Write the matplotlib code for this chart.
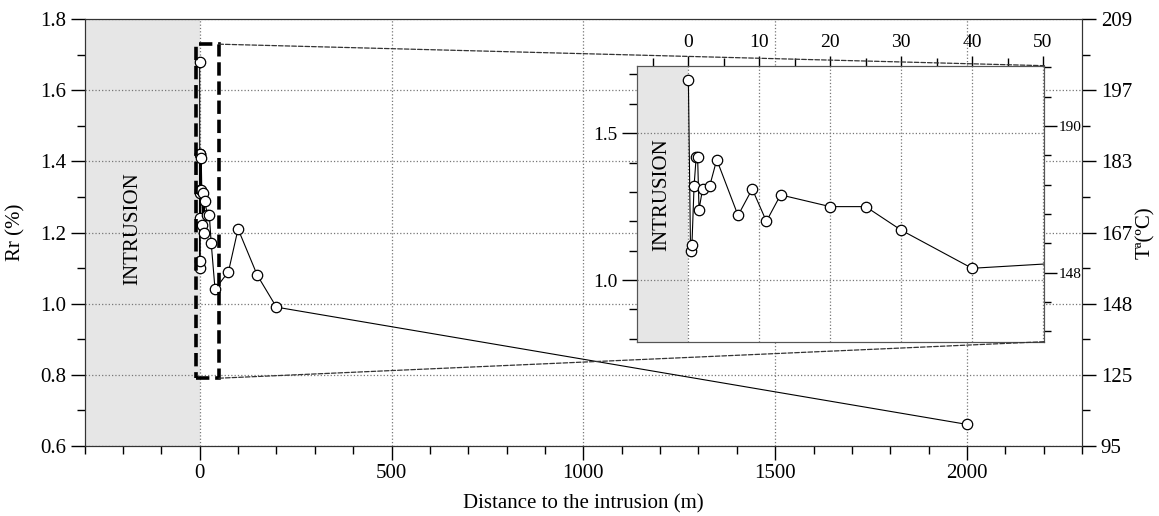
import numpy as np
import matplotlib
matplotlib.use("Agg")
import matplotlib.pyplot as plt
from matplotlib.patches import Rectangle, ConnectionPatch
from matplotlib.ticker import MultipleLocator, FixedLocator, FormatStrFormatter

plt.rcParams['font.family'] = ['Liberation Serif', 'DejaVu Serif']

# vitrinite reflectance vs. distance to the sill
dist = [0, 0.3, 0.5, 0.8, 1.1, 1.3, 1.5, 2, 3, 4, 7, 9, 11, 13, 20, 25, 30, 40,
        75, 100, 150, 200, 2000]
rr = [1.68, 1.10, 1.12, 1.32, 1.42, 1.42, 1.24, 1.31, 1.32, 1.41, 1.22, 1.31,
      1.20, 1.29, 1.25, 1.25, 1.17, 1.04, 1.09, 1.21, 1.08, 0.99, 0.66]

# equivalent temperature scale
temp_pos = [0.6, 0.8, 1.0, 1.2, 1.4, 1.6, 1.8]
temp_labels = ['95', '125', '148', '167', '183', '197', '209']
inset_temp_pos = [1.025, 1.525]
inset_temp_labels = ['148', '190']

line_kw = dict(color='black', lw=0.8, marker='o', ms=7.5, mfc='white',
               mec='black', mew=0.9, zorder=3)
grid_kw = dict(ls=':', color='#777777', lw=0.9)

fig = plt.figure(figsize=(11.59, 5.16), dpi=100)

# main panel
ax = fig.add_axes([0.073, 0.1362, 0.8606, 0.8264])
ax.axvspan(-300, 0, color='#e6e6e6', lw=0, zorder=0.5)
ax.plot(dist, rr, **line_kw)
ax.set_xlim(-300, 2300)
ax.set_ylim(0.6, 1.8)
ax.xaxis.set_major_locator(MultipleLocator(500))
ax.xaxis.set_minor_locator(MultipleLocator(100))
ax.yaxis.set_major_locator(MultipleLocator(0.2))
ax.yaxis.set_minor_locator(MultipleLocator(0.1))
ax.yaxis.set_major_formatter(FormatStrFormatter('%.1f'))
ax.grid(True, which='major', **grid_kw)
ax.tick_params(which='major', direction='out', length=10, width=1, labelsize=15)
ax.tick_params(which='minor', direction='out', length=6, width=1)
ax.set_xlabel('Distance to the intrusion (m)', fontsize=15, labelpad=8)
ax.set_ylabel('Rr (%)', fontsize=15, labelpad=10)
ax.text(-175, 1.21, 'INTRUSION', rotation=90, ha='center', va='center', fontsize=15)
for s in ax.spines.values():
    s.set_color('#333333')

# zoom window
ax.add_patch(Rectangle((-10, 0.79), 60, 0.94, fill=False, ls='--', lw=2.6,
                       ec='black', zorder=4))

axr = ax.twinx()
axr.set_ylim(0.6, 1.8)
axr.yaxis.set_major_locator(FixedLocator(temp_pos))
axr.set_yticklabels(temp_labels)
axr.yaxis.set_minor_locator(MultipleLocator(0.1))
axr.tick_params(which='major', direction='out', length=10, width=1, labelsize=15)
axr.tick_params(which='minor', direction='out', length=6, width=1)
axr.set_ylabel('Tª(ºC)', fontsize=15, labelpad=3)
for s in axr.spines.values():
    s.set_color('#333333')

# inset: first 50 m
axins = fig.add_axes([0.5499, 0.3378, 0.3512, 0.5349])
axins.axvspan(-7.2, 0, color='#e6e6e6', lw=0, zorder=0.5)
axins.plot(dist, rr, **line_kw)
axins.set_xlim(-7.2, 50.2)
axins.set_ylim(0.79, 1.73)
axins.xaxis.set_major_locator(MultipleLocator(10))
axins.xaxis.set_minor_locator(MultipleLocator(5))
axins.yaxis.set_major_locator(FixedLocator([1.0, 1.5]))
axins.yaxis.set_minor_locator(FixedLocator(np.arange(0.8, 1.75, 0.1)))
axins.yaxis.set_major_formatter(FormatStrFormatter('%.1f'))
axins.tick_params(axis='x', which='both', top=True, bottom=False,
                  labeltop=True, labelbottom=False)
axins.tick_params(axis='x', which='major', direction='out', length=7, width=1, labelsize=14)
axins.tick_params(axis='x', which='minor', direction='out', length=6, width=1)
axins.tick_params(axis='y', which='major', direction='out', length=11, width=1, labelsize=14)
axins.tick_params(axis='y', which='minor', direction='out', length=6, width=1)
axins.grid(True, which='major', **grid_kw)
axins.text(-3.7, 1.29, 'INTRUSION', rotation=90, ha='center', va='center', fontsize=15)
for s in axins.spines.values():
    s.set_color('#555555')

axins_r = axins.twinx()
axins_r.set_ylim(0.79, 1.73)
axins_r.yaxis.set_major_locator(FixedLocator(inset_temp_pos))
axins_r.set_yticklabels(inset_temp_labels)
axins_r.yaxis.set_minor_locator(FixedLocator(np.arange(0.825, 1.75, 0.1)))
axins_r.tick_params(which='major', direction='out', length=9, width=1, labelsize=11, pad=1)
axins_r.tick_params(which='minor', direction='out', length=5, width=1)
for s in axins_r.spines.values():
    s.set_color('#555555')

# connectors from the zoom window to the inset
for ya, yb in [(1.73, 1), (0.79, 0)]:
    con = ConnectionPatch(xyA=(50, ya), coordsA=ax.transData,
                          xyB=(1, yb), coordsB=axins.transAxes,
                          ls='--', lw=0.9, color='#333333')
    fig.add_artist(con)

fig.savefig('out.png', dpi=100)
